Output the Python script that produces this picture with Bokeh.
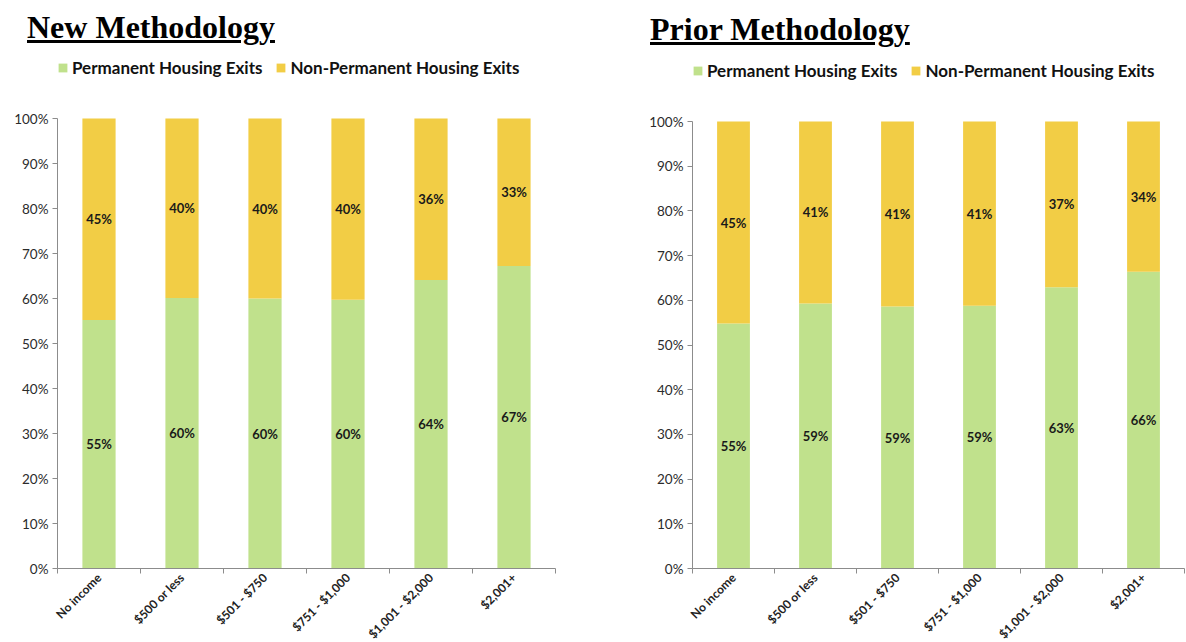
import math

from bokeh.core.properties import value
from bokeh.embed import file_html
from bokeh.layouts import column, row
from bokeh.models import (ColumnDataSource, Div, FixedTicker, Legend, LegendItem,
                          NumeralTickFormatter, Range1d)
from bokeh.plotting import figure
from bokeh.resources import INLINE

# Monthly income at exit
categories = ["No income", "$500 or less", "$501 - $750", "$751 - $1,000",
              "$1,001 - $2,000", "$2,001+"]

# Share of exits (percent) under the new methodology
new_permanent = [55.2, 60.1, 60.0, 59.7, 64.1, 67.2]
new_non_permanent = [44.8, 39.9, 40.0, 40.3, 35.9, 32.8]

# Share of exits (percent) under the prior methodology
prior_permanent = [54.8, 59.3, 58.6, 58.8, 62.9, 66.4]
prior_non_permanent = [45.2, 40.7, 41.4, 41.2, 37.1, 33.6]

series_names = ["Permanent Housing Exits", "Non-Permanent Housing Exits"]
y_ticks = [0, 10, 20, 30, 40, 50, 60, 70, 80, 90, 100]

GREEN = "#C0E18C"
YELLOW = "#F2CD45"
AXIS_GREY = "#8C8C8C"
FONT = "Lato"
LEGEND_H = 20  # approximate height of the one-row legend, px


def make_chart(perm, non_perm, frame_w, frame_h, y_top, left, right, bottom, legend_mid):
    """Stacked 100% bars; the plot area extends above 100% to hold the legend."""
    n = len(categories)
    xs = [i + 0.5 for i in range(n)]
    perm_f = [v / 100 for v in perm]
    non_f = [v / 100 for v in non_perm]
    src = ColumnDataSource(dict(
        x=xs,
        perm=perm_f,
        non=non_f,
        perm_mid=[p / 2 for p in perm_f],
        non_mid=[p + q / 2 for p, q in zip(perm_f, non_f)],
        perm_lbl=[f"{round(v):.0f}%" for v in perm],
        non_lbl=[f"{round(v):.0f}%" for v in non_perm],
    ))

    p = figure(frame_width=frame_w, frame_height=frame_h,
               min_border_left=left, min_border_right=right,
               min_border_top=0, min_border_bottom=bottom,
               x_range=Range1d(0, n), y_range=Range1d(0, y_top),
               output_backend="svg", toolbar_location=None,
               outline_line_color=None, background_fill_color="white",
               border_fill_color="white")

    bars = p.vbar_stack(["perm", "non"], x="x", width=0.4, source=src,
                        color=[GREEN, YELLOW], line_color=None)

    for ycol, tcol in (("perm_mid", "perm_lbl"), ("non_mid", "non_lbl")):
        p.text(x="x", y=ycol, text=tcol, source=src,
               text_font=value(FONT), text_font_style="bold",
               text_font_size=value("13px"), text_color="#1a1a1a",
               text_align="center", text_baseline="middle")

    p.xgrid.visible = False
    p.ygrid.visible = False

    # y axis: percentages with outward ticks, drawn from 0% to 100% only
    yax = p.yaxis[0]
    yax.bounds = (0, 1)
    yax.ticker = FixedTicker(ticks=[t / 100 for t in y_ticks])
    yax.formatter = NumeralTickFormatter(format="0%")
    yax.axis_line_color = AXIS_GREY
    yax.major_tick_line_color = AXIS_GREY
    yax.major_tick_out = 5
    yax.major_tick_in = 0
    yax.minor_tick_line_color = None
    yax.major_label_text_font = FONT
    yax.major_label_text_font_size = "13.5px"
    yax.major_label_text_color = "#2b2b2b"
    yax.major_label_standoff = 4

    # x axis: labels at bar centres, tick marks between categories
    xax = p.xaxis[0]
    xax.ticker = FixedTicker(ticks=xs, minor_ticks=list(range(n + 1)))
    xax.major_label_overrides = {x: c for x, c in zip(xs, categories)}
    xax.major_label_orientation = math.pi / 4
    xax.axis_line_color = AXIS_GREY
    xax.major_tick_line_color = None
    xax.major_tick_out = 0
    xax.major_tick_in = 0
    xax.minor_tick_line_color = AXIS_GREY
    xax.minor_tick_out = 5
    xax.minor_tick_in = 0
    xax.major_label_text_font = FONT
    xax.major_label_text_font_style = "bold"
    xax.major_label_text_font_size = "12px"
    xax.major_label_text_color = "#222222"
    xax.major_label_standoff = 2

    # legend location is the legend's lower-left corner, in px from the frame's lower-left
    legend = Legend(
        items=[LegendItem(label=series_names[0], renderers=[bars[0]]),
               LegendItem(label=series_names[1], renderers=[bars[1]])],
        orientation="horizontal",
        location=(0, frame_h - legend_mid - LEGEND_H // 2),
        glyph_width=11, glyph_height=11, label_standoff=4, spacing=13,
        padding=0, margin=0, border_line_color=None, background_fill_alpha=0,
        label_text_font=FONT, label_text_font_style="bold",
        label_text_font_size="17px", label_text_color="#111111")
    p.add_layout(legend, "center")
    return p


def make_title(text, w, pad_left, pad_top):
    return Div(text=f"<u>{text}</u>", width=w, height=50,
               styles={"font-family": "Liberation Serif", "font-size": "32px",
                       "font-weight": "bold", "color": "#000000",
                       "padding-left": f"{pad_left}px", "padding-top": f"{pad_top}px",
                       "line-height": "normal",
                       "text-decoration-thickness": "3px",
                       "text-underline-offset": "2px",
                       "box-sizing": "border-box", "margin": "0"})


# plot areas: 0%..100% spans 450 px (left) and 447 px (right)
left_fig = make_chart(new_permanent, new_non_permanent, 498, 518, 1 + 68 / 450,
                      57, 45, 74, 18)
right_fig = make_chart(prior_permanent, prior_non_permanent, 492, 518, 1 + 71 / 447,
                       92, 2, 74, 21)

left_title = make_title("New Methodology", 600, 27, 9)
right_title = make_title("Prior Methodology", 586, 50, 11)

layout = row(column(left_title, left_fig, spacing=0),
             column(right_title, right_fig, spacing=0), spacing=0)

with open("out.html", "w") as f:
    f.write(file_html(layout, INLINE))
